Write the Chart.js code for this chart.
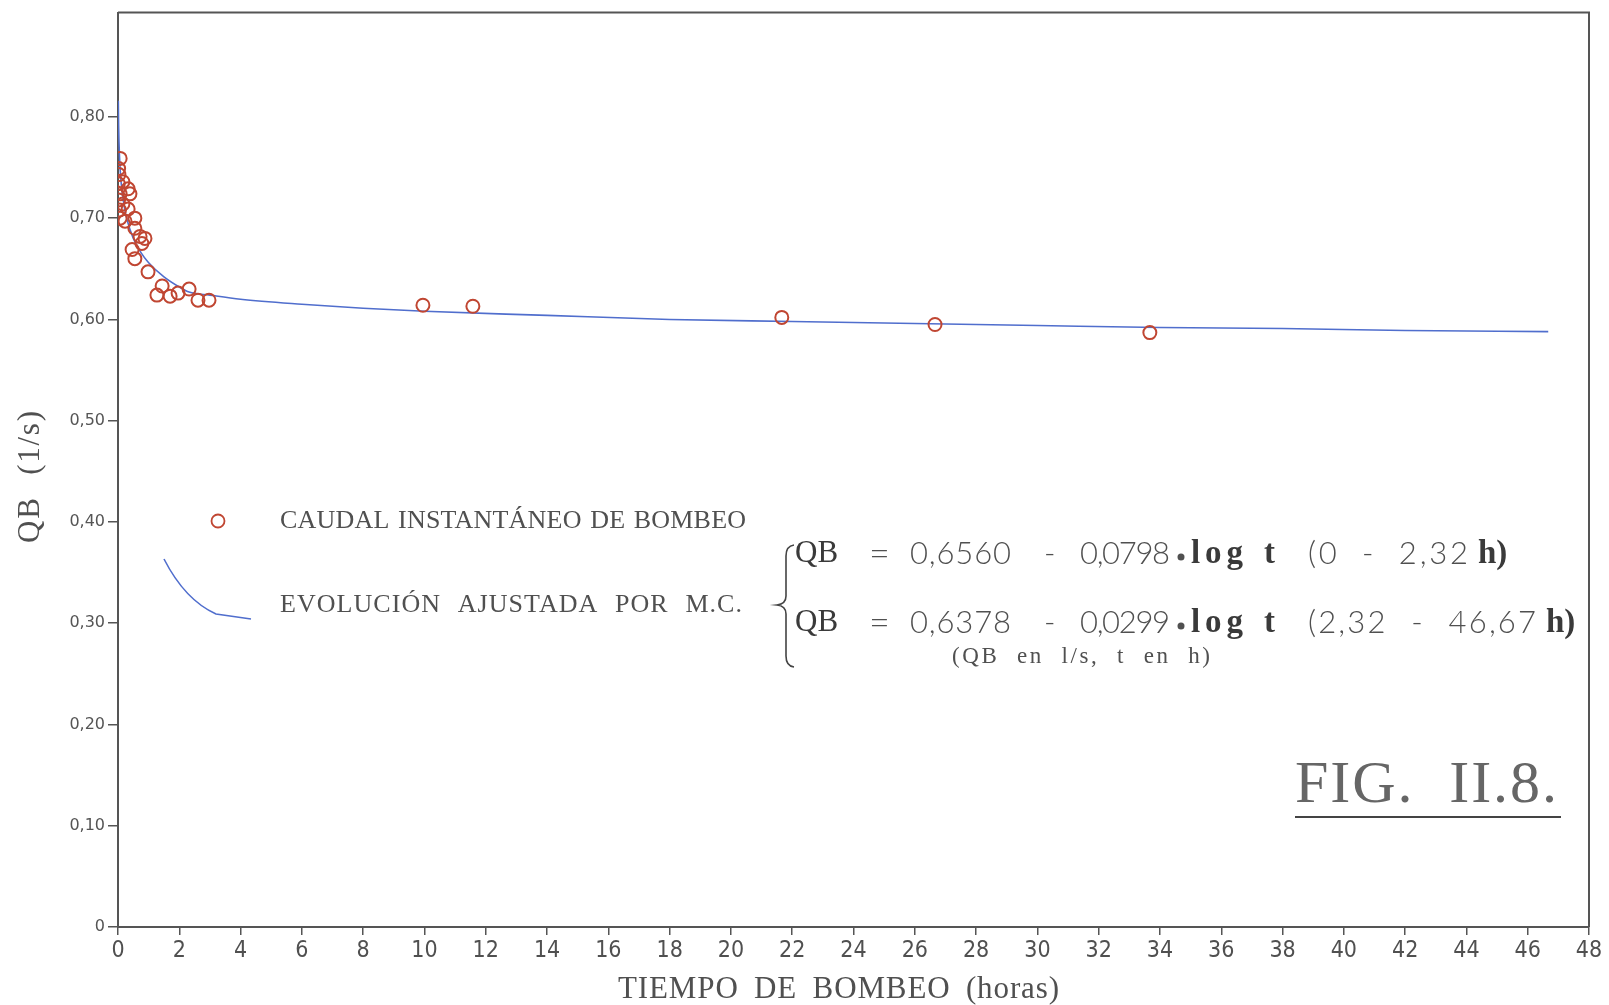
<!DOCTYPE html>
<html>
<head>
<meta charset="utf-8">
<script src="https://cdn.jsdelivr.net/npm/chart.js@4/dist/chart.umd.min.js"></script>
<style>
  html, body { margin: 0; padding: 0; background: #fff; }
  #wrap { width: 1609px; height: 1005px; }
</style>
</head>
<body>
<div id="wrap"><canvas id="myChart" width="1609" height="1005"></canvas></div>
<script>
// puntos medidos (caudal instantaneo de bombeo)
const tiempoObs = [0.07, 0.02, 0.03, 0.01, 0.16, 0.33, 0.39, 0.07, 0.02, 0.16, 0.33, 0.05, 0.07, 0.23, 0.55, 0.55,
  0.72, 0.88, 0.78, 0.46, 0.55, 0.98, 1.44, 1.27, 1.70, 1.96, 2.32, 2.61, 2.97, 9.95, 11.58, 21.66, 26.66, 33.67];
const caudalObs = [0.759, 0.749, 0.743, 0.734, 0.736, 0.729, 0.724, 0.724, 0.718, 0.714, 0.709, 0.708, 0.700, 0.697, 0.700, 0.690,
  0.682, 0.680, 0.675, 0.669, 0.660, 0.647, 0.633, 0.624, 0.623, 0.626, 0.630, 0.619, 0.619, 0.614, 0.613, 0.602, 0.595, 0.587];

// curva ajustada por M.C.
const tiempoAjuste = [0.01, 0.02, 0.05, 0.1, 0.2, 0.3, 0.5, 0.75, 1, 1.5, 2, 2.32, 3, 4, 6, 8, 10, 14, 18, 22, 26, 30, 34, 38, 42, 46.67];
const caudalAjuste = [0.816, 0.792, 0.760, 0.736, 0.712, 0.698, 0.680, 0.666, 0.656, 0.642, 0.632, 0.627, 0.624, 0.620, 0.615, 0.611,
  0.608, 0.604, 0.600, 0.598, 0.596, 0.594, 0.592, 0.591, 0.589, 0.588];

const xMin = 0, xMax = 48, xPaso = 2;
const yMin = 0, yMax = 0.903, yPaso = 0.1;

const colorPunto = 'rgb(192, 70, 50)';
const colorLinea = 'rgb(80, 110, 205)';
const gris = '#505050';

// escribe un texto estirandolo hasta un ancho dado
// la mitad del sobrante va a los espacios y la otra mitad entre letras
function texto(ctx, str, x, y, font, ancho, color) {
  ctx.save();
  ctx.font = font;
  ctx.fillStyle = color || gris;
  ctx.textBaseline = 'middle';
  ctx.textAlign = 'left';
  if (ancho) {
    const w = ctx.measureText(str).width;
    const espacios = (str.match(/ /g) || []).length;
    const sobra = ancho - w;
    const n = Math.max(str.length - 1, 1);
    if (espacios > 0) {
      ctx.wordSpacing = (sobra * 0.5 / espacios) + 'px';
      ctx.letterSpacing = (sobra * 0.5 / n) + 'px';
    } else {
      ctx.letterSpacing = (sobra / n) + 'px';
    }
  }
  ctx.fillText(str, x, y);
  ctx.restore();
}

const extras = {
  id: 'extras',
  afterDraw(chart) {
    const ctx = chart.ctx;
    const a = chart.chartArea;
    ctx.save();
    // marco
    ctx.strokeStyle = '#555';
    ctx.lineWidth = 2;
    ctx.beginPath();
    ctx.moveTo(a.left, a.top);
    ctx.lineTo(a.right, a.top);
    ctx.lineTo(a.right, a.bottom);
    ctx.stroke();

    // titulos de ejes
    texto(ctx, 'TIEMPO DE BOMBEO (horas)', 618, 990, '31px "Liberation Serif"', 441);
    ctx.save();
    ctx.translate(31, 477);
    ctx.rotate(-Math.PI / 2);
    texto(ctx, 'QB (1/s)', -66, 0, '31px "Liberation Serif"', 132);
    ctx.restore();

    // leyenda
    ctx.strokeStyle = colorPunto;
    ctx.lineWidth = 1.8;
    ctx.beginPath();
    ctx.arc(218, 521, 6.5, 0, Math.PI * 2);
    ctx.stroke();
    texto(ctx, 'CAUDAL INSTANTÁNEO DE BOMBEO', 280, 521, '26px "Liberation Serif"', 466);

    ctx.strokeStyle = colorLinea;
    ctx.lineWidth = 1.6;
    ctx.beginPath();
    ctx.moveTo(164, 559);
    ctx.quadraticCurveTo(185, 600, 216, 614);
    ctx.lineTo(251, 619);
    ctx.stroke();
    texto(ctx, 'EVOLUCIÓN AJUSTADA POR M.C.', 280, 605, '26px "Liberation Serif"', 462);

    // llave
    ctx.strokeStyle = '#444';
    ctx.lineWidth = 1.6;
    ctx.beginPath();
    ctx.moveTo(794, 545);
    ctx.quadraticCurveTo(786, 546, 786, 556);
    ctx.lineTo(786, 596);
    ctx.quadraticCurveTo(786, 604, 777, 605);
    ctx.quadraticCurveTo(786, 606, 786, 614);
    ctx.lineTo(786, 656);
    ctx.quadraticCurveTo(786, 666, 794, 667);
    ctx.stroke();

    // ecuaciones
    const serif = '31px "Liberation Serif"';
    const serifM = '600 33px "Liberation Serif"';
    const num = '300 31px Lato, "Open Sans", sans-serif';
    const filas = [
      { y: 554, a: '0,6560', b: '0,0798', r: '(0 - 2,32', rw: 160 },
      { y: 623, a: '0,6378', b: '0,0299', r: '(2,32 - 46,67', rw: 228 }
    ];
    filas.forEach(f => {
      texto(ctx, 'QB', 795, f.y, serif, null, '#3a3a3a');
      texto(ctx, '=', 869, f.y, '300 36px Lato, sans-serif');
      texto(ctx, f.a, 910, f.y, num, 101);
      texto(ctx, '-', 1044, f.y, num);
      texto(ctx, f.b, 1080, f.y, num, 90);
      ctx.fillStyle = gris;
      ctx.beginPath();
      ctx.arc(1181, f.y + 3, 3.5, 0, Math.PI * 2);
      ctx.fill();
      texto(ctx, 'log', 1191, f.y, serifM, 52, '#3a3a3a');
      texto(ctx, 't', 1264, f.y, serifM, null, '#3a3a3a');
      texto(ctx, f.r, 1308, f.y, num, f.rw);
      texto(ctx, 'h)', 1308 + f.rw + 10, f.y, serifM, null, '#3a3a3a');
    });
    texto(ctx, '(QB en l/s, t en h)', 952, 657, '23px "Liberation Serif"', 258);

    // rotulo de figura
    texto(ctx, 'FIG. II.8.', 1295, 786, '60px "Liberation Serif"', 262, '#666');
    ctx.strokeStyle = '#444';
    ctx.lineWidth = 2;
    ctx.beginPath();
    ctx.moveTo(1295, 817);
    ctx.lineTo(1561, 817);
    ctx.stroke();
    ctx.restore();
  }
};

const ctx = document.getElementById('myChart').getContext('2d');
const myChart = new Chart(ctx, {
  type: 'scatter',
  data: {
    datasets: [{
      label: 'EVOLUCIÓN AJUSTADA POR M.C.',
      type: 'line',
      data: tiempoAjuste.map((t, i) => ({ x: t, y: caudalAjuste[i] })),
      borderColor: colorLinea,
      borderWidth: 1.6,
      pointRadius: 0,
      fill: false,
      cubicInterpolationMode: 'monotone',
      order: 2
    }, {
      label: 'CAUDAL INSTANTÁNEO DE BOMBEO',
      data: tiempoObs.map((t, i) => ({ x: t, y: caudalObs[i] })),
      backgroundColor: 'rgba(0,0,0,0)',
      borderColor: colorPunto,
      borderWidth: 2,
      pointRadius: 6.5,
      order: 1
    }]
  },
  options: {
    responsive: false,
    animation: false,
    layout: { padding: { top: 9, right: 20, left: 0, bottom: 0 } },
    plugins: { legend: { display: false }, tooltip: { enabled: false } },
    scales: {
      x: {
        type: 'linear',
        min: xMin, max: xMax,
        ticks: {
          stepSize: xPaso,
          color: gris,
          padding: 2,
          font: { family: '"Liberation Sans Narrow", "DejaVu Sans Condensed", sans-serif', size: 23 },
          maxRotation: 0
        },
        grid: { drawOnChartArea: false, drawTicks: true, tickLength: 8, color: '#555', lineWidth: 1.5 },
        border: { color: '#555', width: 2 },
        afterFit(scale) { scale.height = 78; }
      },
      y: {
        min: yMin, max: yMax,
        ticks: {
          stepSize: yPaso,
          color: '#555',
          padding: 3,
          font: { family: '"DejaVu Sans"', size: 16 },
          callback: v => v > 0.85 ? '' : (v === 0 ? '0' : v.toFixed(2).replace('.', ','))
        },
        grid: {
          drawOnChartArea: false, drawTicks: true, tickLength: 10, lineWidth: 1.5,
          color: c => (c.tick && c.tick.value > 0.85) ? 'rgba(0,0,0,0)' : '#555'
        },
        border: { color: '#555', width: 2 },
        afterFit(scale) { scale.width = 118; }
      }
    }
  },
  plugins: [extras]
});
</script>
</body>
</html>
